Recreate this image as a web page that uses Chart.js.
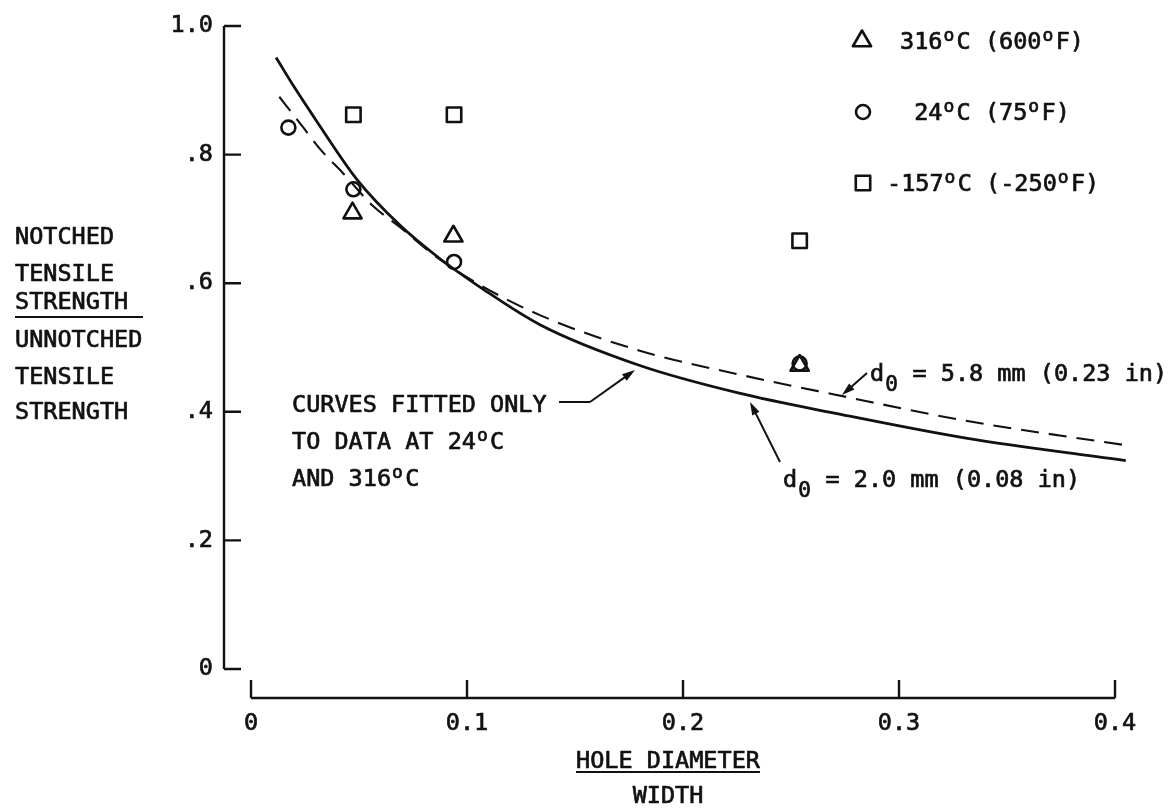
<!DOCTYPE html>
<html>
<head>
<meta charset="utf-8">
<script src="https://cdn.jsdelivr.net/npm/chart.js@4/dist/chart.umd.min.js"></script>
<style>
  html, body { margin: 0; padding: 0; background: #fff; }
  #wrap { width: 1174px; height: 811px; }
</style>
</head>
<body>
<div id="wrap"><canvas id="chart" width="1174" height="811"></canvas></div>
<script>
// ---------- DATA ----------
const xTicks = [0, 0.1, 0.2, 0.3, 0.4];
const yTicks = [0, 0.2, 0.4, 0.6, 0.8, 1.0];

// test points (hole diameter / width, notched / unnotched strength)
const tri316X = [0.047, 0.0937, 0.254];
const tri316Y = [0.709, 0.673, 0.472];
const circ24X = [0.0173, 0.0474, 0.094, 0.254];
const circ24Y = [0.842, 0.746, 0.633, 0.475];
const sqM157X = [0.0474, 0.094, 0.254];
const sqM157Y = [0.862, 0.862, 0.666];

// fitted curves
const fit20X = [0.0116, 0.0204, 0.0304, 0.0489, 0.069, 0.0875, 0.106, 0.134, 0.180, 0.226, 0.270, 0.331, 0.405];
const fit20Y = [0.951, 0.903, 0.852, 0.762, 0.690, 0.638, 0.594, 0.535, 0.472, 0.429, 0.398, 0.359, 0.324];
const fit58X = [0.0131, 0.024, 0.0324, 0.0421, 0.0565, 0.069, 0.085, 0.103, 0.134, 0.180, 0.226, 0.270, 0.331, 0.405];
const fit58Y = [0.890, 0.843, 0.807, 0.773, 0.720, 0.687, 0.643, 0.603, 0.550, 0.495, 0.458, 0.427, 0.386, 0.348];

const legendLabels = ["316°C (600°F)", " 24°C (75°F)", "-157°C (-250°F)"];

// ---------- STYLE ----------
const FONT = '"DejaVu Sans Mono", monospace';
const FSIZE = 23.5;
const INK = "#111";
const MARK_W = 2.6;

const pts = (xs, ys) => xs.map((x, i) => ({ x: x, y: ys[i] }));

// text with ° as raised small o and _X as lowered char, one mono cell per char
function richText(ctx, str, x, yMid, align) {
  ctx.save();
  ctx.font = FSIZE + "px " + FONT;
  const cell = ctx.measureText("M").width;
  const cells = [];
  for (let i = 0; i < str.length; i++) {
    const c = str[i];
    if (c === "_") { cells.push({ c: str[i + 1], k: "sub" }); i++; }
    else if (c === "°") cells.push({ c: "o", k: "sup" });
    else cells.push({ c: c, k: "n" });
  }
  let x0 = x;
  if (align === "center") x0 = x - cells.length * cell / 2;
  const base = yMid + FSIZE * 0.729 / 2;
  ctx.fillStyle = INK;
  ctx.strokeStyle = INK;
  ctx.lineWidth = 0.7;
  ctx.textAlign = "left";
  ctx.textBaseline = "alphabetic";
  cells.forEach((o, i) => {
    const cx = x0 + i * cell;
    let px = cx, py = base;
    if (o.k === "sup") {
      ctx.font = "18px " + FONT;
      px = cx + 1; py = base - 8;
    } else if (o.k === "sub") {
      ctx.font = "21px " + FONT;
      px = cx + 1; py = base + 10;
    } else {
      ctx.font = FSIZE + "px " + FONT;
    }
    ctx.fillText(o.c, px, py);
    ctx.strokeText(o.c, px, py);
  });
  ctx.restore();
  return cells.length * cell;
}

function arrow(ctx, x1, y1, x2, y2) {
  const a = Math.atan2(y2 - y1, x2 - x1);
  ctx.beginPath();
  ctx.moveTo(x1, y1);
  ctx.lineTo(x2 - 8 * Math.cos(a), y2 - 8 * Math.sin(a));
  ctx.stroke();
  ctx.beginPath();
  ctx.moveTo(x2, y2);
  ctx.lineTo(x2 - 13 * Math.cos(a) + 4 * Math.sin(a), y2 - 13 * Math.sin(a) - 4 * Math.cos(a));
  ctx.lineTo(x2 - 13 * Math.cos(a) - 4 * Math.sin(a), y2 - 13 * Math.sin(a) + 4 * Math.cos(a));
  ctx.closePath();
  ctx.fill();
}

// ---------- AXES, LABELS, LEGEND ----------
const paperPlugin = {
  id: "paper",
  afterDraw(chart) {
    const ctx = chart.ctx;
    const xs = chart.scales.x, ys = chart.scales.y;
    const ax = chart.chartArea.left, ay = chart.chartArea.bottom;
    ctx.save();
    ctx.strokeStyle = INK;
    ctx.fillStyle = INK;
    ctx.lineWidth = 2.4;

    // y axis with inward ticks
    ctx.beginPath();
    ctx.moveTo(ax, ys.getPixelForValue(yTicks[yTicks.length - 1]));
    ctx.lineTo(ax, ys.getPixelForValue(0));
    yTicks.forEach(v => {
      const py = ys.getPixelForValue(v);
      ctx.moveTo(ax, py);
      ctx.lineTo(ax + 17, py);
    });
    ctx.stroke();

    // x axis with upward ticks
    ctx.beginPath();
    ctx.moveTo(xs.getPixelForValue(0), ay);
    ctx.lineTo(xs.getPixelForValue(xTicks[xTicks.length - 1]), ay);
    xTicks.forEach(v => {
      const px = xs.getPixelForValue(v);
      ctx.moveTo(px, ay);
      ctx.lineTo(px, ay - 18);
    });
    ctx.stroke();

    // y title
    const yTitle = [["NOTCHED", 235], ["TENSILE", 272], ["STRENGTH", 300], ["UNNOTCHED", 338], ["TENSILE", 375], ["STRENGTH", 410]];
    yTitle.forEach(t => richText(ctx, t[0], 15, t[1], "left"));
    ctx.lineWidth = 2;
    ctx.beginPath();
    ctx.moveTo(15, 317); ctx.lineTo(143, 317);
    ctx.stroke();

    // x title
    const w = richText(ctx, "HOLE DIAMETER", 668, 759, "center");
    ctx.beginPath();
    ctx.moveTo(668 - w / 2, 772); ctx.lineTo(668 + w / 2, 772);
    ctx.stroke();
    richText(ctx, "WIDTH", 668, 794, "center");

    // notes
    richText(ctx, "CURVES FITTED ONLY", 292, 403, "left");
    richText(ctx, "TO DATA AT 24°C", 292, 440, "left");
    richText(ctx, "AND 316°C", 292, 477, "left");
    ctx.lineWidth = 2;
    ctx.beginPath();
    ctx.moveTo(559, 402); ctx.lineTo(590, 402);
    ctx.stroke();
    arrow(ctx, 590, 402, 635, 370);

    richText(ctx, "d_0 = 5.8 mm (0.23 in)", 870, 372, "left");
    arrow(ctx, 867, 373, 842, 395);
    richText(ctx, "d_0 = 2.0 mm (0.08 in)", 783, 478, "left");
    arrow(ctx, 780, 462, 750, 402);

    // legend
    const marks = [["triangle", 10.5, 862, 41], ["circle", 7, 863, 112], ["rect", 10.2, 863, 183]];
    const lx = [900, 900, 887];
    const ly = [40, 111, 182];
    ctx.lineWidth = MARK_W;
    ctx.lineJoin = "round";
    ctx.fillStyle = "rgba(0,0,0,0)";
    marks.forEach((m, i) => {
      Chart.helpers.drawPoint(ctx, { pointStyle: m[0], radius: m[1], rotation: 0, borderWidth: MARK_W }, m[2], m[3]);
      richText(ctx, legendLabels[i], lx[i], ly[i], "left");
    });
    ctx.restore();
  }
};

// round joins for the open markers
const joinPlugin = {
  id: "joins",
  beforeDatasetsDraw(chart) { chart.ctx.lineJoin = "round"; }
};

// ---------- CHART ----------
const tickFont = { family: FONT, size: FSIZE };

new Chart(document.getElementById("chart"), {
  type: "scatter",
  data: {
    datasets: [
      {
        label: "d0 = 2.0 mm",
        data: pts(fit20X, fit20Y),
        showLine: true,
        borderColor: INK,
        borderWidth: 2.8,
        pointRadius: 0,
        cubicInterpolationMode: "monotone"
      },
      {
        label: "d0 = 5.8 mm",
        data: pts(fit58X, fit58Y),
        showLine: true,
        borderColor: INK,
        borderWidth: 2.1,
        borderDash: [18, 10],
        pointRadius: 0,
        cubicInterpolationMode: "monotone"
      },
      {
        label: "316°C (600°F)",
        data: pts(tri316X, tri316Y),
        pointStyle: "triangle",
        pointRadius: 10.5,
        borderColor: INK,
        borderWidth: MARK_W,
        backgroundColor: "rgba(0,0,0,0)"
      },
      {
        label: "24°C (75°F)",
        data: pts(circ24X, circ24Y),
        pointStyle: "circle",
        pointRadius: 7,
        borderColor: INK,
        borderWidth: MARK_W,
        backgroundColor: "rgba(0,0,0,0)"
      },
      {
        label: "-157°C (-250°F)",
        data: pts(sqM157X, sqM157Y),
        pointStyle: "rect",
        pointRadius: 10.2,
        borderColor: INK,
        borderWidth: MARK_W,
        backgroundColor: "rgba(0,0,0,0)"
      }
    ]
  },
  options: {
    responsive: false,
    devicePixelRatio: 1,
    animation: false,
    layout: { padding: { left: 0, right: 32, top: 26, bottom: 0 } },
    plugins: { legend: { display: false }, tooltip: { enabled: false } },
    scales: {
      x: {
        type: "linear",
        position: "bottom",
        min: -0.0125,
        max: 0.4125,
        afterBuildTicks: s => { s.ticks = xTicks.map(v => ({ value: v })); },
        afterFit: s => { s.height = 113; },
        grid: { display: false, drawTicks: false },
        border: { display: false },
        ticks: {
          font: tickFont,
          color: INK,
          textStrokeColor: INK,
          textStrokeWidth: 0.7,
          padding: 12,
          maxRotation: 0,
          autoSkip: false,
          callback: v => (v === 0 ? "0" : v.toFixed(1))
        }
      },
      y: {
        type: "linear",
        min: -0.0451,
        max: 1.0,
        afterBuildTicks: s => { s.ticks = yTicks.map(v => ({ value: v })); },
        afterFit: s => { s.width = 224; },
        grid: { display: false, drawTicks: false },
        border: { display: false },
        ticks: {
          font: tickFont,
          color: INK,
          textStrokeColor: INK,
          textStrokeWidth: 0.7,
          padding: 11,
          autoSkip: false,
          callback: v => (v === 0 ? "0" : v === 1 ? "1.0" : v.toFixed(1).replace(/^0/, ""))
        }
      }
    }
  },
  plugins: [joinPlugin, paperPlugin]
});
</script>
</body>
</html>
